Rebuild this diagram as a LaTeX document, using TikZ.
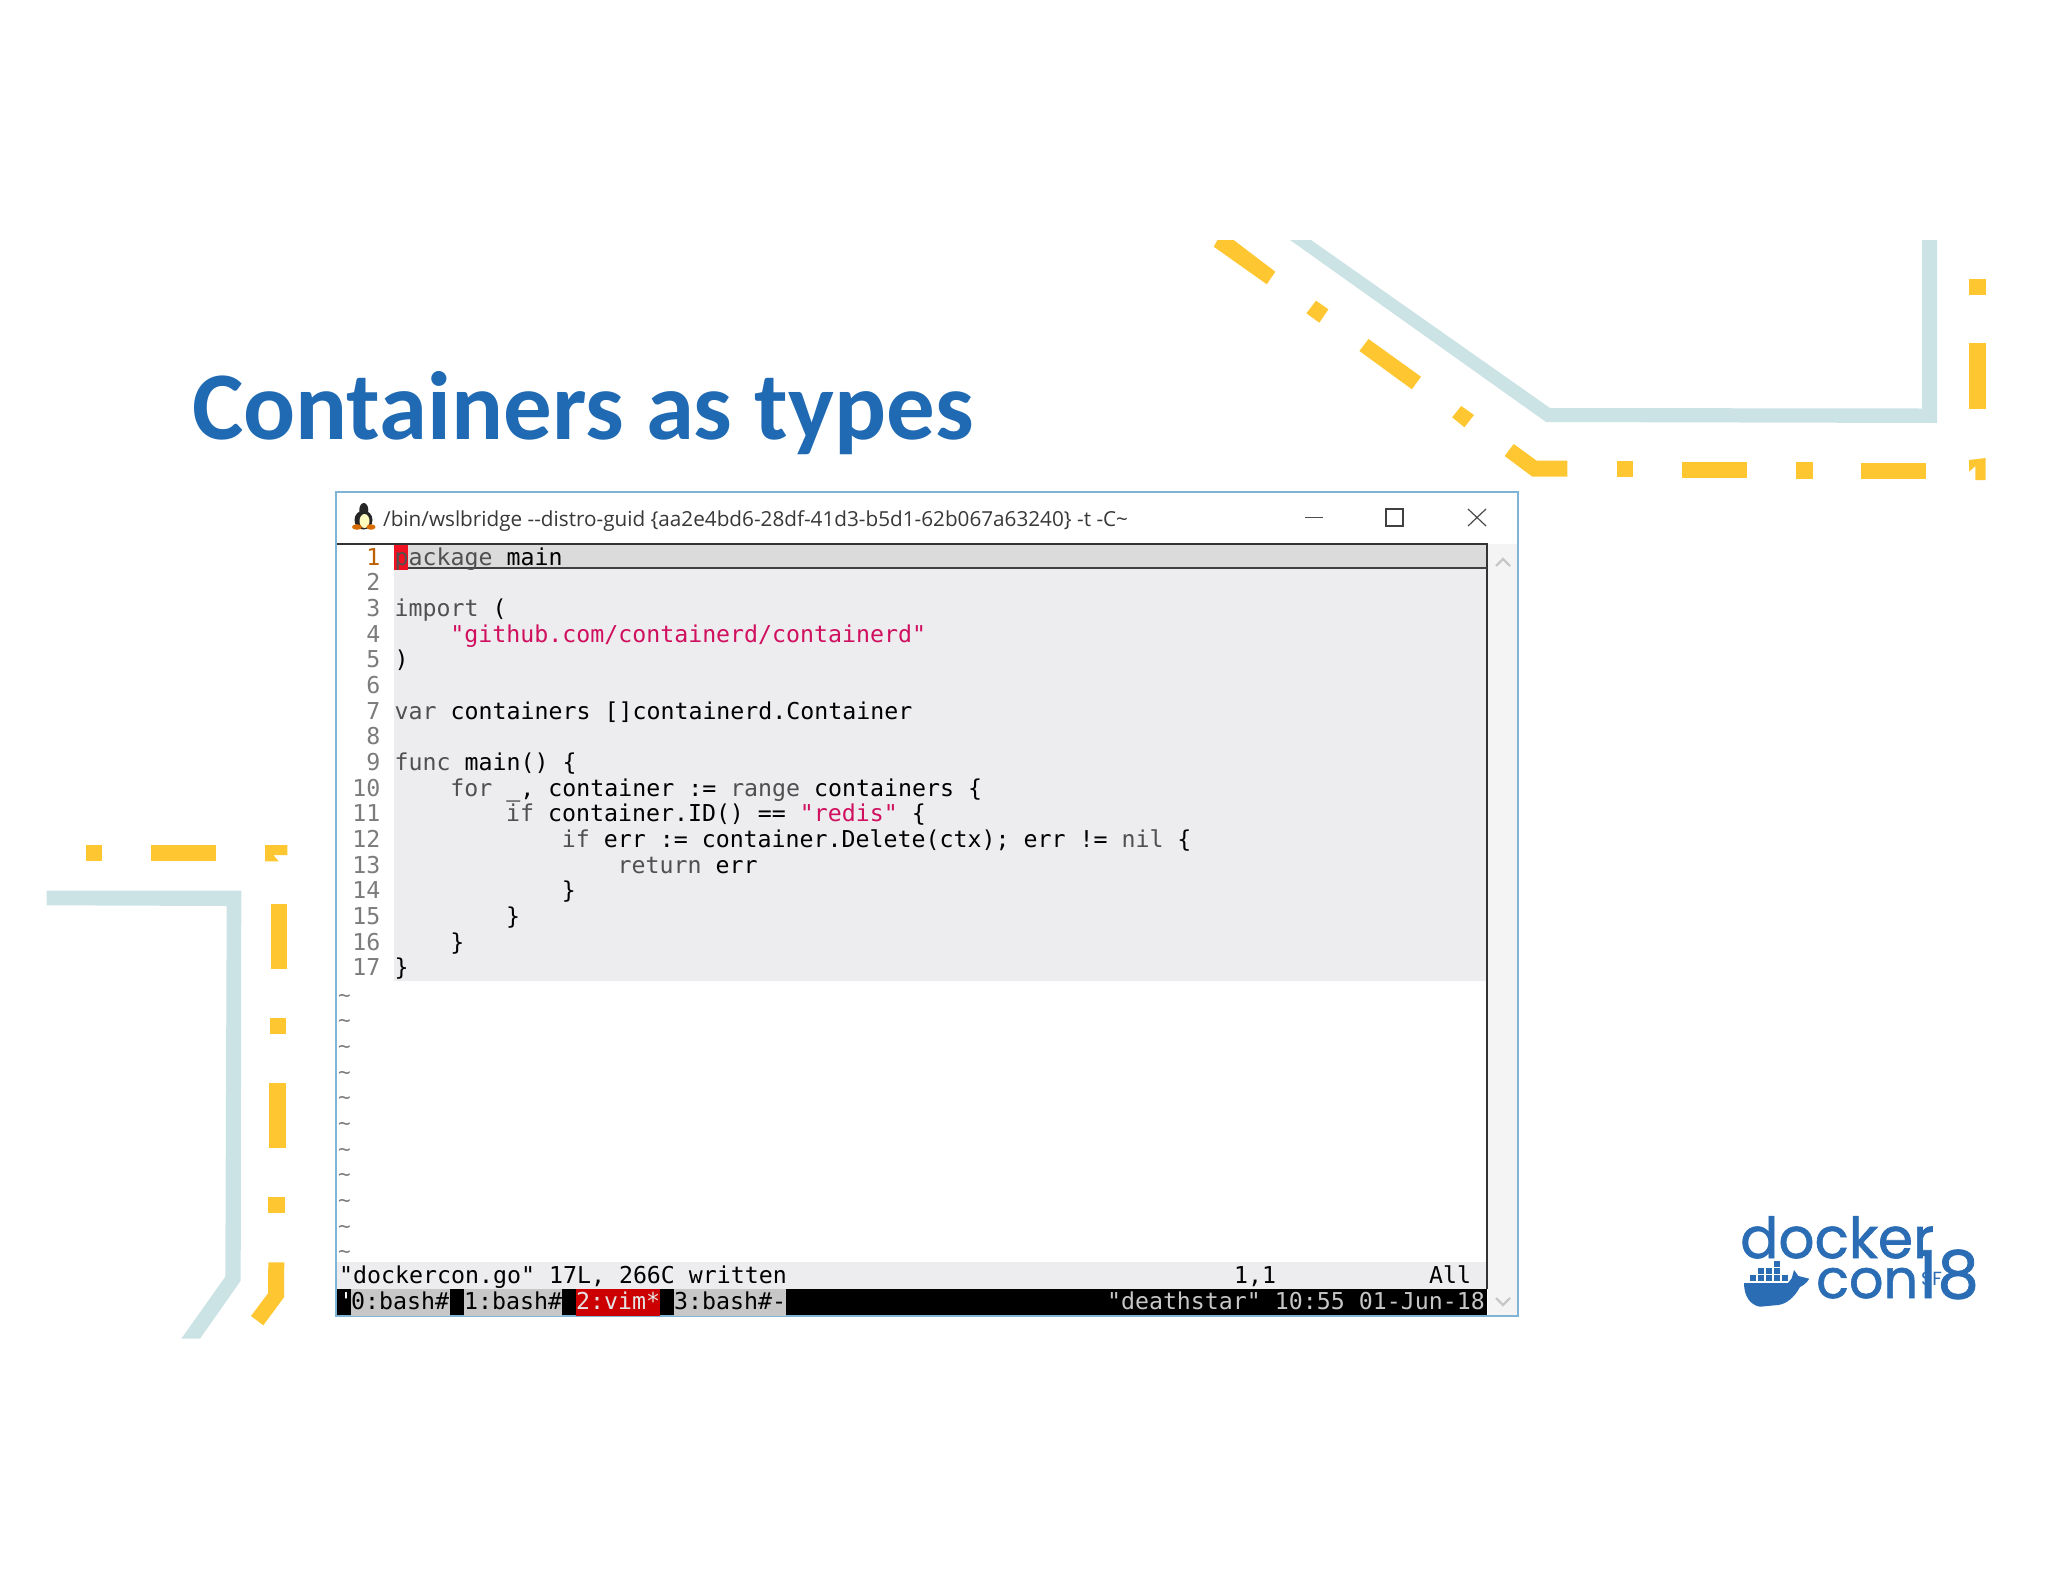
\documentclass[tikz,border=0pt]{standalone}
\usepackage{fontspec}
\setmainfont{Carlito}
\newfontfamily\codefont{DejaVu Sans Mono}
\newfontfamily\uifont{Open Sans}
\newfontfamily\logofont[FakeBold=1.2]{Poppins}
\newfontfamily\logothin{Poppins}
\definecolor{titleblue}{HTML}{1F6AB2}
\definecolor{teal}{HTML}{CCE3E6}
\definecolor{amber}{HTML}{FEC732}
\definecolor{winborder}{HTML}{7FB4D6}
\definecolor{kwgray}{HTML}{505050}
\definecolor{numgray}{HTML}{7C7C7C}
\definecolor{strpink}{HTML}{D0105F}
\definecolor{logoblue}{HTML}{2A6DB5}
\definecolor{bodygray}{HTML}{EDEDEF}
\definecolor{cursorred}{HTML}{EE1122}
\tikzset{
  codetext/.style={anchor=base west,inner sep=0pt,font=\codefont\fontsize{23.24}{23}\selectfont,text=black},
  numtext/.style={anchor=base east,inner sep=0pt,font=\codefont\fontsize{23.24}{23}\selectfont,text=numgray},
  tabtext/.style={anchor=base west,inner sep=0pt,font=\codefont\fontsize{23.24}{23}\selectfont},
  band/.style={fill=amber,draw=none},
  rail/.style={fill=teal,draw=none},
  logotext/.style={inner sep=0pt,anchor=base west,text=logoblue},
}
\newcommand\kw[1]{\textcolor{kwgray}{#1}}
\newcommand\str[1]{\textcolor{strpink}{#1}}
\newcommand\codeline[3]{\node[codetext] (code#1) at ({394.5+13.93*#2},{565+25.67*(#1-1)}) {#3};}
\newcommand\numline[1]{\node[numtext] (num#1) at (380.6,{565+25.67*(#1-1)}) {#1};}
\newcommand\tildeline[1]{\node[tabtext,text=numgray] (tilde#1) at (338,{565.6+25.67*(#1-1)}) {\fontsize{21}{21}\selectfont\char`\~};}
\begin{document}
\begin{tikzpicture}[x=1pt,y=-1pt]
\useasboundingbox (0,0) rectangle (2048,1582);
\fill[white] (0,0) rectangle (2048,1582);
% title
\node[anchor=base west,inner sep=0pt,text=titleblue,font=\bfseries\fontsize{97}{97}\selectfont] (title) at (192,439) {Containers as types};
% upper-right decoration
\fill[rail] (1290,240) -- (1311,240) -- (1550,408) -- (1922,408.5) -- (1922,240) -- (1937,240) -- (1937,423) -- (1546,422) -- cycle;
\fill[band] (1217.5,240) -- (1233.6,240) -- (1275.3,271.7) -- (1266.8,284.3) -- (1213.7,246.7) -- cycle;
\fill[band] (1316,300.7) -- (1328.4,309.3) -- (1319.3,322.7) -- (1306.4,313.3) -- cycle;
\fill[band] (1368.5,339) -- (1421,376.7) -- (1411.9,389.3) -- (1359.4,351) -- cycle;
\fill[band] (1461.2,406) -- (1474,415) -- (1464.4,427.3) -- (1452.1,417.3) -- cycle;
\fill[band] (1513.7,444) -- (1536.7,460.7) -- (1567.3,460.7) -- (1567.3,476.7) -- (1532.4,476.7) -- (1504.6,456) -- cycle;
\fill[band] (1617,460.7) rectangle (1633,477.3);
\fill[band] (1682,462) rectangle (1747,478);
\fill[band] (1796,462.3) rectangle (1812.5,478.7);
\fill[band] (1861,463) rectangle (1926,479);
\fill[band] (1969,460) -- (1985.6,458) -- (1985.6,480) -- (1975.4,480) -- (1975.4,466) -- (1969,471.7) -- cycle;
\fill[band] (1969,278.7) rectangle (1985.6,295);
\fill[band] (1969,343.3) rectangle (1985.6,408.7);
% left decoration
\fill[rail] (46.7,890.7) -- (241.3,890.7) -- (240.7,1280.7) -- (200,1338.7) -- (181.3,1338.7) -- (225.3,1276.7) -- (226.7,906) -- (46.7,905.3) -- cycle;
\fill[band] (86,845) rectangle (102.3,861.3);
\fill[band] (151,845) rectangle (216,861.3);
\fill[band] (265,845) -- (287.3,845) -- (287.3,855) -- (273.3,855) -- (278.7,861.3) -- (265,861.3) -- cycle;
\fill[band] (270.7,904.3) rectangle (287,969);
\fill[band] (270,1018) rectangle (286,1034);
\fill[band] (269.3,1083.3) rectangle (285.7,1148);
\fill[band] (268.3,1197.3) rectangle (285,1213.3);
\fill[band] (268.3,1262.3) -- (284.3,1262.3) -- (284,1297.3) -- (263.3,1325.3) -- (251,1316) -- (268,1293.3) -- cycle;
% window
\fill[white] (336,492) rectangle (1518,1316);
\fill[bodygray!60] (1488,544) rectangle (1517,1316);
\fill[bodygray] (394,568) rectangle (1487,981);
\fill[black!14] (394,545) rectangle (1487,568);
\fill[bodygray] (336,1262) rectangle (1487,1289);
\fill[black] (336,1289) rectangle (1487,1316);
\draw[black!80,line width=1.2pt] (336,544) -- (1487,544) -- (1487,1289);
\draw[black!75,line width=1.2pt] (394,568) -- (1487,568);
\draw[black!60,line width=1pt] (336,544) -- (336,1289);
\draw[winborder,line width=1.6pt] (335.8,492) rectangle (1518,1316);
% window title icon
\fill[black!85] (363.8,510) ellipse (4.5 and 7);
\fill[black!85] (363.5,520) ellipse (9 and 9.5);
\fill[yellow!25!white] (364.5,521) ellipse (5 and 7);
\fill[orange!85!black] (357,527) ellipse (5 and 2.8);
\fill[orange!85!black] (371,527) ellipse (4.5 and 2.8);
\node[anchor=base west,inner sep=0pt,text=black!78,font=\uifont\fontsize{20.7}{22}\selectfont] (wintitle) at (383,526) {/bin/wslbridge --distro-guid \{aa2e4bd6-28df-41d3-b5d1-62b067a63240\} -t -C\textasciitilde};
\draw[black!70,line width=1.2pt] (1305,517.5) -- (1323,517.5);
\draw[black!75,line width=1.3pt] (1386,509) rectangle (1403,526);
\draw[black!70,line width=1.2pt] (1468,509) -- (1486,526) (1486,509) -- (1468,526);
\draw[black!22,line width=2.4pt] (1496,566) -- (1503,559) -- (1510,566);
\draw[black!22,line width=2.4pt] (1496,1298) -- (1503,1305) -- (1510,1298);
% cursor
\fill[cursorred] (394,545) rectangle (408,570);
% line numbers
\foreach \n in {2,...,17} {\numline{\n}}
\node[numtext,text=orange!75!black] (num1) at (380.6,565) {1};
% code
\codeline{1}{0}{\kw{package} main}
\codeline{3}{0}{\kw{import} (}
\codeline{4}{4}{\str{"github.com/containerd/containerd"}}
\codeline{5}{0}{)}
\codeline{7}{0}{\kw{var} containers []containerd.Container}
\codeline{9}{0}{\kw{func} main() \{}
\codeline{10}{4}{\kw{for} \_, container := \kw{range} containers \{}
\codeline{11}{8}{\kw{if} container.ID() == \str{"redis"} \{}
\codeline{12}{12}{\kw{if} err := container.Delete(ctx); err != \kw{nil} \{}
\codeline{13}{16}{\kw{return} err}
\codeline{14}{12}{\}}
\codeline{15}{8}{\}}
\codeline{16}{4}{\}}
\codeline{17}{0}{\}}
\foreach \n in {18,...,28} {\tildeline{\n}}
% status line
\node[codetext] (status) at (339,1283) {"dockercon.go" 17L, 266C written};
\node[codetext] (pos) at (1234,1283) {1,1};
\node[codetext] (pct) at (1429,1283) {All};
% tmux bar
\fill[black!22] (351,1289) rectangle (450,1316);
\fill[black!22] (464,1289) rectangle (562,1316);
\fill[red!80!black] (576,1289) rectangle (660,1316);
\fill[black!22] (674,1289) rectangle (786,1316);
\node[tabtext,text=white] (tick) at (339,1309) {'};
\node[tabtext,text=black] (tab0) at (351,1309) {0:bash\#};
\node[tabtext,text=black] (tab1) at (464,1309) {1:bash\#};
\node[tabtext,text=black!10] (tab2) at (576,1309) {2:vim*};
\node[tabtext,text=black] (tab3) at (674,1309) {3:bash\#-};
\node[tabtext,anchor=base east,text=black!22] (host) at (1485,1309) {"deathstar" 10:55 01-Jun-18};
% docker logo
\node[logotext,font=\logofont\fontsize{56.5}{57}\selectfont] (docker) at (1740,1258) {docker};
\node[logotext,font=\logofont\fontsize{54}{54}\selectfont] (con) at (1816,1298) {con};
\node[logotext,font=\logofont\fontsize{66}{66}\selectfont] (eighteen) at (1916,1298) {18};
\node[logotext,font=\logothin\fontsize{19}{19}\selectfont] (sf) at (1921,1285) {SF};
\fill[logoblue] (1744,1283) -- (1788,1283) -- (1791.7,1278.3) -- (1794,1270) -- (1798.3,1276) -- (1809.3,1278.7) .. controls (1806,1284) and (1802,1286) .. (1800,1287) .. controls (1794,1298) and (1786,1304) .. (1778,1305) -- (1760,1306.7) .. controls (1750,1305) and (1744,1296) .. (1744,1283) -- cycle;
\foreach \c in {0,...,4} {\fill[logoblue] ({1749.5+8*\c},1275) rectangle ++(6.3,6);}
\foreach \c in {0,...,2} {\fill[logoblue] ({1757.5+8*\c},1268) rectangle ++(6.3,6);}
\fill[logoblue] (1773.5,1260.5) rectangle ++(6.3,6);
\end{tikzpicture}
\end{document}
